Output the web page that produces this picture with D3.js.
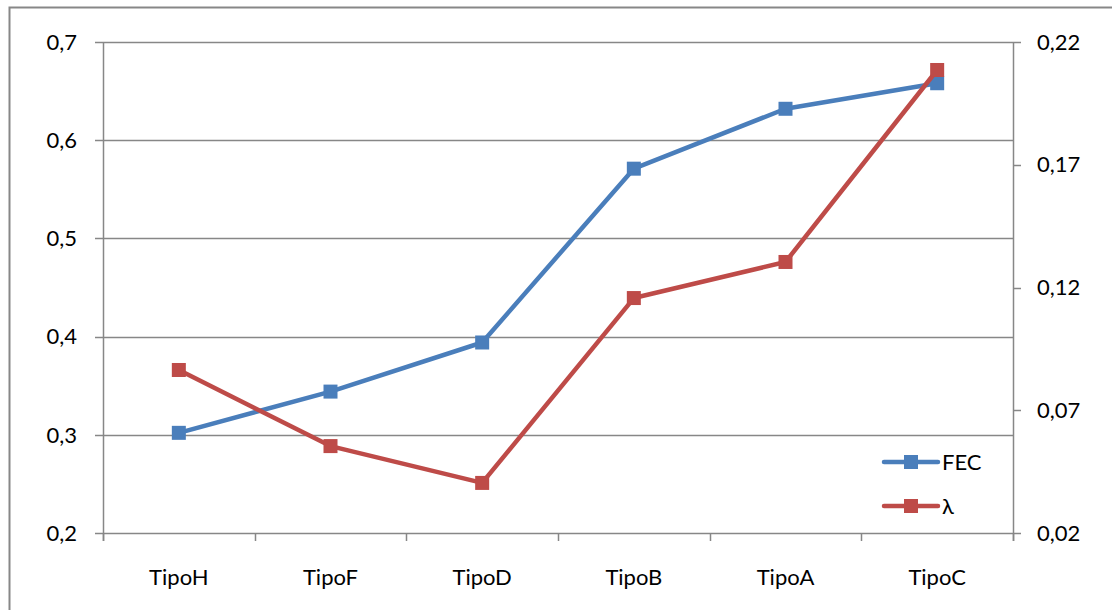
<!DOCTYPE html>
<html>
<head>
<meta charset="utf-8">
<script src="https://cdn.jsdelivr.net/npm/d3@7"></script>
<style>
  html, body { margin: 0; padding: 0; background: #fff; }
  svg { display: block; }
  text { font-family: Lato, "Open Sans", "Liberation Sans", sans-serif; fill: #000; }
</style>
</head>
<body>
<svg id="chart" width="1112" height="610"></svg>
<script>
// Categories and series values
const categories = ["TipoH", "TipoF", "TipoD", "TipoB", "TipoA", "TipoC"];
const fecValues = [0.302, 0.344, 0.394, 0.571, 0.632, 0.658];
const lambdaValues = [0.0864, 0.0554, 0.0404, 0.1157, 0.1304, 0.2086];
const leftTicks = [0.2, 0.3, 0.4, 0.5, 0.6, 0.7];
const rightTicks = [0.02, 0.07, 0.12, 0.17, 0.22];
const seriesNames = ["FEC", "λ"];

const svg = d3.select("#chart");
const W = 1112, H = 610;
const plot = { left: 103, right: 1013, top: 42, bottom: 533 };
const gridColor = "#878787";
const colors = ["#4A7EBB", "#BE4B48"];
const fontSize = 22;

// Outer chart frame
svg.append("rect")
  .attr("x", 9.5).attr("y", 7.5)
  .attr("width", W + 20).attr("height", H + 20)
  .attr("fill", "none").attr("stroke", gridColor).attr("stroke-width", 2);

const x = d3.scaleBand().domain(categories).range([plot.left, plot.right]);
const yL = d3.scaleLinear().domain([0.2, 0.7]).range([plot.bottom, plot.top]);
const yR = d3.scaleLinear().domain([0.02, 0.22]).range([plot.bottom, plot.top]);
const fmt = d => d3.format(".2~f")(d).replace(".", ",");

// Horizontal gridlines with left ticks
const grid = svg.append("g");
grid.selectAll("line").data(leftTicks).join("line")
  .attr("x1", plot.left - 8).attr("x2", plot.right)
  .attr("y1", d => Math.round(yL(d)) + 0.5).attr("y2", d => Math.round(yL(d)) + 0.5)
  .attr("stroke", gridColor).attr("stroke-width", 1.5);

// Left axis labels
svg.append("g").selectAll("text").data(leftTicks).join("text")
  .attr("x", 77).attr("y", d => yL(d))
  .attr("dy", "0.35em").attr("text-anchor", "end")
  .attr("font-size", fontSize).text(d => fmt(d));

// Left axis line
svg.append("line")
  .attr("x1", plot.left + 0.5).attr("x2", plot.left + 0.5)
  .attr("y1", plot.top).attr("y2", plot.bottom + 8)
  .attr("stroke", gridColor).attr("stroke-width", 1.5);

// Right axis line and ticks
svg.append("line")
  .attr("x1", plot.right + 0.5).attr("x2", plot.right + 0.5)
  .attr("y1", plot.top).attr("y2", plot.bottom + 8)
  .attr("stroke", gridColor).attr("stroke-width", 1.5);
svg.append("g").selectAll("line").data(rightTicks).join("line")
  .attr("x1", plot.right).attr("x2", plot.right + 8)
  .attr("y1", d => Math.round(yR(d)) + 0.5).attr("y2", d => Math.round(yR(d)) + 0.5)
  .attr("stroke", gridColor).attr("stroke-width", 1.5);
svg.append("g").selectAll("text").data(rightTicks).join("text")
  .attr("x", 1037).attr("y", d => yR(d))
  .attr("dy", "0.35em").attr("text-anchor", "start")
  .attr("font-size", fontSize).text(d => fmt(d));

// Category ticks along the bottom
const catEdges = categories.map(c => x(c)).concat([plot.right]);
svg.append("g").selectAll("line").data(catEdges).join("line")
  .attr("x1", d => Math.round(d) + 0.5).attr("x2", d => Math.round(d) + 0.5)
  .attr("y1", plot.bottom).attr("y2", plot.bottom + 8)
  .attr("stroke", gridColor).attr("stroke-width", 1.5);
svg.append("g").selectAll("text").data(categories).join("text")
  .attr("x", d => x(d) + x.bandwidth() / 2).attr("y", 585)
  .attr("text-anchor", "middle").attr("font-size", fontSize).text(d => d);

// Series lines and square markers
const series = [
  { name: seriesNames[0], values: fecValues, scale: yL, color: colors[0] },
  { name: seriesNames[1], values: lambdaValues, scale: yR, color: colors[1] }
];
const cx = (i) => x(categories[i]) + x.bandwidth() / 2;
const ms = 14;

series.forEach(s => {
  const line = d3.line().x((d, i) => cx(i)).y(d => s.scale(d));
  svg.append("path").datum(s.values)
    .attr("d", line).attr("fill", "none")
    .attr("stroke", s.color).attr("stroke-width", 4.5)
    .attr("stroke-linejoin", "round");
  svg.append("g").selectAll("rect").data(s.values).join("rect")
    .attr("x", (d, i) => cx(i) - ms / 2).attr("y", d => s.scale(d) - ms / 2)
    .attr("width", ms).attr("height", ms).attr("fill", s.color);
});

// Legend
const legend = svg.append("g");
series.forEach((s, i) => {
  const ly = 462 + i * 44;
  legend.append("line")
    .attr("x1", 884).attr("x2", 938).attr("y1", ly).attr("y2", ly)
    .attr("stroke", s.color).attr("stroke-width", 4.5).attr("stroke-linecap", "round");
  legend.append("rect")
    .attr("x", 911 - ms / 2).attr("y", ly - ms / 2)
    .attr("width", ms).attr("height", ms).attr("fill", s.color);
  legend.append("text")
    .attr("x", 942).attr("y", ly).attr("dy", "0.35em")
    .attr("font-size", fontSize).text(s.name);
});
</script>
</body>
</html>
